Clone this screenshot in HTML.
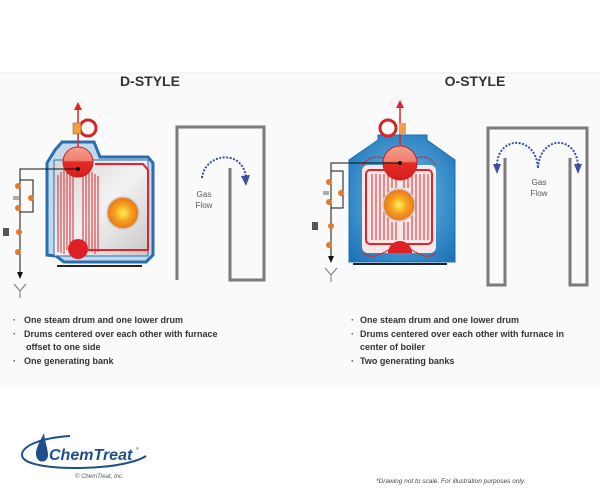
<!DOCTYPE html>
<html><head><meta charset="utf-8"><style>
html,body{margin:0;padding:0;background:#fff;}
svg{display:block;font-family:"Liberation Sans",sans-serif;}
</style></head><body>
<svg width="600" height="500" viewBox="0 0 600 500" xmlns="http://www.w3.org/2000/svg">
<defs>
<linearGradient id="gr" x1="0" y1="0" x2="1" y2="1"><stop offset="0" stop-color="#d4d4d4"/><stop offset=".5" stop-color="#f2f2f2"/><stop offset="1" stop-color="#c8c8c8"/></linearGradient>
<radialGradient id="fire"><stop offset="0" stop-color="#fff35a"/><stop offset=".5" stop-color="#f7a21e"/><stop offset="1" stop-color="#e8741a"/></radialGradient>
<linearGradient id="drum" x1="0" y1="0" x2="0" y2="1"><stop offset="0" stop-color="#f4a08c"/><stop offset=".45" stop-color="#f08070"/><stop offset=".5" stop-color="#e52b24"/><stop offset="1" stop-color="#d81e1e"/></linearGradient>
<radialGradient id="blue" cx=".5" cy=".5" r=".7"><stop offset="0" stop-color="#6ec3ec"/><stop offset="1" stop-color="#1b6fb5"/></radialGradient>
</defs>
<rect x="0" y="73" width="600" height="314" fill="#fafafa"/>
<line x1="0" y1="73" x2="600" y2="73" stroke="#ececec"/>
<text x="150" y="86" text-anchor="middle" font-size="14" font-weight="bold" fill="#333">D-STYLE</text>
<text x="475" y="86" text-anchor="middle" font-size="14" font-weight="bold" fill="#333">O-STYLE</text>

<!-- D boiler -->
<path d="M47,163 L55,150 L62,142 L94,142 L100,157 L148,157 L153,163 L153,255 L146,262 L64,262 L56,256 L47,255 Z" fill="#c3d8ea" stroke="#2a6eb0" stroke-width="3"/>
<rect x="54" y="160" width="94" height="96" fill="url(#gr)" stroke="#2a6eb0" stroke-width="1"/>
<path d="M95,164 L143,164 L148,170 L148,250 L88,250" fill="none" stroke="#e0242a" stroke-width="2"/>
<g stroke="#e0242a" stroke-width="1" fill="none">
<path d="M58,175 L58,252"/><path d="M61,172 L61,253"/><path d="M64,170 L64,254"/><path d="M67,170 L67,250"/><path d="M70,172 L70,248"/><path d="M73,172 L73,246"/><path d="M83,172 L83,246"/><path d="M86,172 L86,248"/><path d="M89,172 L89,250"/><path d="M92,172 L92,252"/><path d="M95,174 L95,254"/><path d="M98,176 L98,252"/>
</g>
<line x1="57" y1="266" x2="142" y2="266" stroke="#222" stroke-width="2"/>
<circle cx="78" cy="162" r="15" fill="url(#drum)" stroke="#c8202a"/>
<circle cx="78" cy="249" r="10" fill="#dd2026"/>
<circle cx="123" cy="213" r="16" fill="url(#fire)" stroke="#ccc" stroke-width="1.5"/>
<line x1="78" y1="147" x2="78" y2="108" stroke="#e0242a" stroke-width="1.5"/>
<path d="M74,110 L78,102 L82,110Z" fill="#e0242a"/>
<circle cx="88" cy="128" r="8" fill="none" stroke="#d4262a" stroke-width="3"/>
<rect x="73" y="123" width="8" height="11" fill="#f0a040" stroke="#a05020" stroke-width=".5"/>
<path d="M78,169 L20,169 L20,274" fill="none" stroke="#111" stroke-width="1"/>
<path d="M17,272 L20,279 L23,272Z" fill="#111"/>
<circle cx="78" cy="169" r="2" fill="#111"/>
<path d="M20,180 L33,180 L33,212 L20,212" fill="none" stroke="#111" stroke-width="1"/>
<g fill="#e07a30"><circle cx="18" cy="186" r="3"/><circle cx="31" cy="198" r="3"/><circle cx="18" cy="208" r="3"/><circle cx="19" cy="232" r="3"/><circle cx="18" cy="252" r="3"/></g>
<rect x="3" y="228" width="6" height="8" fill="#555"/><rect x="13" y="196" width="6" height="4" fill="#aaa"/>
<path d="M14,284 L20,291 L26,284 M20,291 L20,298" fill="none" stroke="#777" stroke-width="1"/>

<!-- D gas flow -->
<path d="M177,280 L177,127 L264,127 L264,280 L230,280 L230,168" fill="none" stroke="#7b7b7b" stroke-width="3"/>
<path d="M202,178 C204,155 240,147 246,176" fill="none" stroke="#3c4fa0" stroke-width="2" stroke-dasharray="2,1.5"/>
<path d="M241,176 L246,186 L250,175Z" fill="#3c4fa0"/>
<text x="204" y="197" text-anchor="middle" font-size="8" fill="#555">Gas</text>
<text x="204" y="208" text-anchor="middle" font-size="8" fill="#555">Flow</text>

<!-- O boiler -->
<path d="M378,135 L427,135 L427,140 L455,160 L455,262 L349,262 L349,160 L378,140 Z" fill="url(#blue)" stroke="#1b6fb5"/>
<rect x="362" y="165" width="74" height="88" rx="6" fill="#f6e8e8"/>
<g stroke="#e0242a" stroke-width="1" fill="none">
<rect x="366" y="170" width="66" height="74" rx="4" stroke-width="2"/>
<path d="M372,174 V240 M376,174 V240 M380,174 V240 M384,174 V240 M388,174 V240 M412,174 V240 M416,174 V240 M420,174 V240 M424,174 V240 M428,174 V240 M392,174 V188 M396,174 V188 M404,174 V188 M408,174 V188 M392,222 V240 M396,222 V240 M404,222 V240 M408,222 V240"/>
<path d="M362,165 C375,150 385,160 395,162 M405,162 C415,160 425,150 436,165 M362,253 C375,262 385,250 395,247 M405,247 C415,250 425,262 436,253"/>
</g>
<line x1="353" y1="264" x2="447" y2="264" stroke="#222" stroke-width="2"/>
<circle cx="400" cy="163" r="17" fill="url(#drum)" stroke="#c8202a"/>
<path d="M388,253 A12,12 0 0 1 412,253 Z" fill="#dd2026"/>
<circle cx="399" cy="205" r="16" fill="url(#fire)" stroke="#ccc" stroke-width="1.5"/>
<line x1="400" y1="146" x2="400" y2="106" stroke="#e0242a" stroke-width="1.5"/>
<path d="M396,108 L400,100 L404,108Z" fill="#e0242a"/>
<circle cx="388" cy="128" r="8" fill="none" stroke="#d4262a" stroke-width="3"/>
<rect x="399" y="123" width="7" height="11" fill="#f0a040"/>
<path d="M400,163 L331,163 L331,258" fill="none" stroke="#111" stroke-width="1"/>
<path d="M328,256 L331,263 L334,256Z" fill="#111"/>
<circle cx="400" cy="163" r="2" fill="#111"/>
<path d="M331,171 L343,171 L343,208 L331,208" fill="none" stroke="#111" stroke-width="1"/>
<g fill="#e07a30"><circle cx="329" cy="182" r="3"/><circle cx="341" cy="193" r="3"/><circle cx="329" cy="202" r="3"/><circle cx="331" cy="226" r="3"/><circle cx="329" cy="245" r="3"/></g>
<rect x="312" y="222" width="6" height="8" fill="#555"/><rect x="323" y="191" width="6" height="4" fill="#aaa"/>
<path d="M325,268 L331,275 L337,268 M331,275 L331,282" fill="none" stroke="#777" stroke-width="1"/>

<!-- O gas flow -->
<path d="M505,158 L505,285 L488,285 L488,128 L587,128 L587,285 L570,285 L570,158" fill="none" stroke="#7b7b7b" stroke-width="3"/>
<path d="M497,165 C498,135 536,135 538,168 M538,168 C540,135 576,135 578,165" fill="none" stroke="#3c4fa0" stroke-width="2" stroke-dasharray="2,1.5"/>
<path d="M493,164 L497,174 L501,164Z M574,164 L578,174 L582,164Z" fill="#3c4fa0"/>
<text x="539" y="185" text-anchor="middle" font-size="8" fill="#555">Gas</text>
<text x="539" y="196" text-anchor="middle" font-size="8" fill="#555">Flow</text>

<!-- bullets -->
<g font-size="9" fill="#333" font-weight="bold">
<text x="13" y="323">·</text><text x="24" y="323">One steam drum and one lower drum</text>
<text x="13" y="337">·</text><text x="24" y="337">Drums centered over each other with furnace</text>
<text x="26" y="350">offset to one side</text>
<text x="13" y="364">·</text><text x="24" y="364">One generating bank</text>
<text x="351" y="323">·</text><text x="360" y="323">One steam drum and one lower drum</text>
<text x="351" y="337">·</text><text x="360" y="337">Drums centered over each other with furnace in</text>
<text x="360" y="350">center of boiler</text>
<text x="351" y="364">·</text><text x="360" y="364">Two generating banks</text>
</g>

<!-- logo -->
<path d="M70,436 C40,438 22,446 22,455 C22,466 60,470 100,467 C125,465 140,460 146,456" fill="none" stroke="#1f4f8a" stroke-width="2"/>
<path d="M44,433 C38,445 34,452 37,458 C40,464 48,462 48,455 C48,449 45,443 44,433Z" fill="#1f4f8a"/>
<text x="49" y="460" font-size="16" font-weight="bold" font-style="italic" fill="#1f4f8a">ChemTreat</text>
<text x="136" y="450" font-size="4" fill="#1f4f8a">®</text>
<text x="75" y="478" font-size="6" font-style="italic" fill="#555">© ChemTreat, Inc.</text>
<text x="376" y="483" font-size="6.5" font-style="italic" fill="#444">*Drawing not to scale. For illustration purposes only.</text>
</svg>
</body></html>
